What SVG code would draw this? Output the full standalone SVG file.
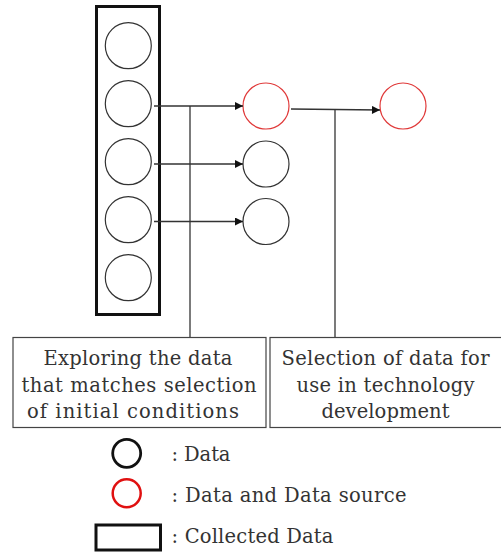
<svg xmlns="http://www.w3.org/2000/svg" width="501" height="553" viewBox="0 0 501 553">
  <defs>
    <marker id="arrow" viewBox="0 0 10 10" refX="10" refY="5" markerWidth="10" markerHeight="8" markerUnits="userSpaceOnUse" orient="auto">
      <path d="M0,0 L10,5 L0,10 z" fill="#111"/>
    </marker>
    <style>
      .data { fill: #fff; stroke: #333; stroke-width: 1.2; }
      .source { fill: #fff; stroke: #e03a3a; stroke-width: 1.2; }
      .wire { fill: none; stroke: #333; stroke-width: 1.3; }
      .box { fill: #fff; stroke: #444; stroke-width: 1.2; }
      .label { font-family: "DejaVu Serif", "Liberation Serif", serif; font-size: 19.5px; fill: #333; text-anchor: middle; }
      .legend { font-family: "DejaVu Serif", "Liberation Serif", serif; font-size: 19.5px; fill: #333; }
    </style>
  </defs>
  <rect width="501" height="553" fill="#fff"/>

  <!-- collected data column -->
  <g id="collected">
    <rect x="96.5" y="6.5" width="63" height="308" fill="#fff" stroke="#111" stroke-width="3"/>
    <circle class="data" cx="128.3" cy="45.7" r="23"/>
    <circle class="data" cx="128.3" cy="103.7" r="23"/>
    <circle class="data" cx="128.3" cy="161.7" r="23"/>
    <circle class="data" cx="128.3" cy="219.7" r="23"/>
    <circle class="data" cx="128.3" cy="277.7" r="23"/>
  </g>

  <!-- explored data -->
  <g id="explored-source">
    <circle class="source" cx="266" cy="106" r="23"/>
  </g>
  <g id="explored-data-1">
    <circle class="data" cx="266" cy="164" r="23"/>
  </g>
  <g id="explored-data-2">
    <circle class="data" cx="266" cy="221.5" r="23"/>
  </g>

  <!-- selected data -->
  <g id="selected-source">
    <circle class="source" cx="403" cy="106" r="23"/>
  </g>

  <!-- connectors -->
  <g id="connectors">
    <line class="wire" x1="154" y1="106" x2="243" y2="106" marker-end="url(#arrow)"/>
    <line class="wire" x1="154" y1="164" x2="243" y2="164" marker-end="url(#arrow)"/>
    <line class="wire" x1="154" y1="221.5" x2="243" y2="221.5" marker-end="url(#arrow)"/>
    <line class="wire" x1="190" y1="106" x2="190" y2="337"/>
    <line class="wire" x1="291" y1="109" x2="380" y2="110" marker-end="url(#arrow)"/>
    <line class="wire" x1="335" y1="109.5" x2="335" y2="337"/>
  </g>

  <!-- step descriptions -->
  <g id="step-explore">
    <rect class="box" x="13" y="337.5" width="253" height="90"/>
    <text class="label" x="138" y="365" textLength="189">Exploring the data</text>
    <text class="label" x="139" y="391.5" textLength="235">that matches selection</text>
    <text class="label" x="133" y="418" textLength="212">of initial conditions</text>
  </g>
  <g id="step-select">
    <rect class="box" x="270" y="337.5" width="235" height="90"/>
    <text class="label" x="385.5" y="365" textLength="208">Selection of data for</text>
    <text class="label" x="385.5" y="391.5" textLength="178">use in technology</text>
    <text class="label" x="385.5" y="418" textLength="128">development</text>
  </g>

  <!-- legend -->
  <g id="legend">
    <circle cx="126.7" cy="453.3" r="14" fill="none" stroke="#111" stroke-width="2.8"/>
    <text class="legend" x="171.5" y="460.5" textLength="59">: Data</text>
    <circle cx="126.7" cy="493.3" r="14" fill="none" stroke="#e01010" stroke-width="2.5"/>
    <text class="legend" x="171.5" y="502" textLength="235">: Data and Data source</text>
    <rect x="96" y="525" width="64.5" height="25" fill="none" stroke="#111" stroke-width="3"/>
    <text class="legend" x="171.5" y="542.5" textLength="162">: Collected Data</text>
  </g>
</svg>
